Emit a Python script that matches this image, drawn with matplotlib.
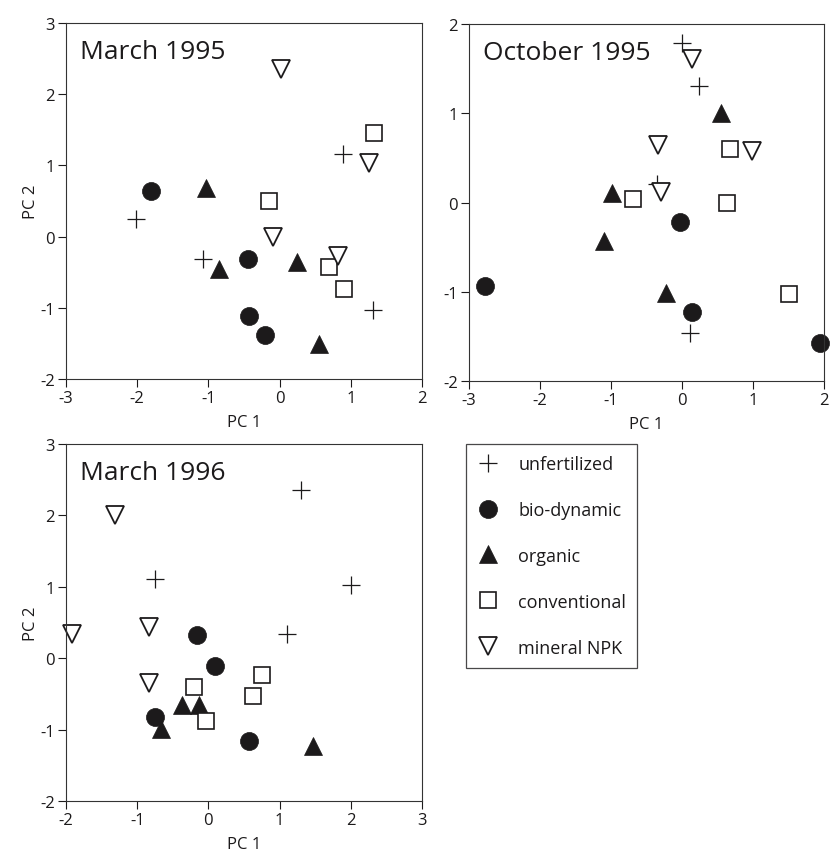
import matplotlib
matplotlib.use("Agg")
import matplotlib.pyplot as plt
from matplotlib.lines import Line2D

plt.rcParams['font.family'] = ['Open Sans', 'DejaVu Sans']
plt.rcParams['axes.unicode_minus'] = False

groups = ["unfertilized", "bio-dynamic", "organic", "conventional", "mineral NPK"]

# March 1995
m95_unfert_x = [0.89, -2.01, -1.08, 1.31]
m95_unfert_y = [1.16, 0.25, -0.31, -1.03]
m95_biodyn_x = [-1.81, -0.45, -0.43, -0.21]
m95_biodyn_y = [0.645, -0.31, -1.12, -1.38]
m95_organic_x = [-1.04, -0.85, 0.25, 0.56]
m95_organic_y = [0.68, -0.46, -0.36, -1.51]
m95_conv_x = [1.32, -0.15, 0.70, 0.91]
m95_conv_y = [1.46, 0.50, -0.42, -0.73]
m95_npk_x = [0.02, 1.26, -0.09, 0.82]
m95_npk_y = [2.35, 1.03, 0.00, -0.27]

# October 1995
o95_unfert_x = [0.00, 0.24, -0.35, 0.11]
o95_unfert_y = [1.79, 1.30, 0.21, -1.46]
o95_biodyn_x = [-0.03, -2.78, 0.14, 1.94]
o95_biodyn_y = [-0.22, -0.94, -1.23, -1.57]
o95_organic_x = [0.545, -0.98, -1.10, -0.23]
o95_organic_y = [1.00, 0.11, -0.43, -1.01]
o95_conv_x = [0.68, -0.69, 0.64, 1.51]
o95_conv_y = [0.60, 0.04, -0.01, -1.02]
o95_npk_x = [0.145, -0.34, 0.99, -0.29]
o95_npk_y = [1.61, 0.64, 0.58, 0.12]

# March 1996
m96_unfert_x = [1.30, -0.75, 2.00, 1.11]
m96_unfert_y = [2.36, 1.11, 1.02, 0.34]
m96_biodyn_x = [-0.16, 0.09, -0.75, 0.57]
m96_biodyn_y = [0.325, -0.11, -0.82, -1.155]
m96_organic_x = [-0.37, -0.13, -0.66, 1.47]
m96_organic_y = [-0.66, -0.66, -0.99, -1.23]
m96_conv_x = [0.75, -0.20, 0.62, -0.03]
m96_conv_y = [-0.23, -0.40, -0.53, -0.875]
m96_npk_x = [-1.31, -1.91, -0.84, -0.84]
m96_npk_y = [2.00, 0.34, 0.43, -0.35]

panels = [
    ("March 1995", (-3, 2), (-2, 3),
     [(m95_unfert_x, m95_unfert_y), (m95_biodyn_x, m95_biodyn_y), (m95_organic_x, m95_organic_y),
      (m95_conv_x, m95_conv_y), (m95_npk_x, m95_npk_y)]),
    ("October 1995", (-3, 2), (-2, 2),
     [(o95_unfert_x, o95_unfert_y), (o95_biodyn_x, o95_biodyn_y), (o95_organic_x, o95_organic_y),
      (o95_conv_x, o95_conv_y), (o95_npk_x, o95_npk_y)]),
    ("March 1996", (-2, 3), (-2, 3),
     [(m96_unfert_x, m96_unfert_y), (m96_biodyn_x, m96_biodyn_y), (m96_organic_x, m96_organic_y),
      (m96_conv_x, m96_conv_y), (m96_npk_x, m96_npk_y)]),
]

INK = "#1c1a1b"
styles = [
    dict(marker="+", markersize=13, markeredgewidth=0.9, color=INK),
    dict(marker="o", markersize=13, markerfacecolor=INK, markeredgecolor=INK, markeredgewidth=0.5),
    dict(marker="^", markersize=13, markerfacecolor=INK, markeredgecolor=INK, markeredgewidth=0.5),
    dict(marker="s", markersize=12, markerfacecolor="white", markeredgecolor=INK, markeredgewidth=1.2),
    dict(marker="v", markersize=12.5, markerfacecolor="white", markeredgecolor=INK, markeredgewidth=1.3),
]

W, H = 830, 854
fig = plt.figure(figsize=(W / 100, H / 100), dpi=100)
boxes = [(66, 24, 422, 380), (469, 25, 824, 382), (66, 445, 422, 802)]

axes = []
for (title, xl, yl, data), (x0, y0, x1, y1) in zip(panels, boxes):
    ax = fig.add_axes([x0 / W, 1 - y1 / H, (x1 - x0) / W, (y1 - y0) / H])
    for (xs, ys), st in zip(data, styles):
        ax.plot(xs, ys, linestyle="none", clip_on=False, **st)
    ax.set_xlim(*xl)
    ax.set_ylim(*yl)
    ax.set_xticks(range(xl[0], xl[1] + 1))
    ax.set_yticks(range(yl[0], yl[1] + 1))
    ax.tick_params(direction="out", length=6, width=0.8, color=INK, labelcolor=INK,
                   labelsize=12, pad=2)
    for s in ax.spines.values():
        s.set_linewidth(0.8)
        s.set_color("#333333")
    ax.text(0.04, 0.955, title, transform=ax.transAxes, fontsize=19, color=INK,
            ha="left", va="top")
    ax.set_xlabel("PC 1", fontsize=12, color=INK, labelpad=6)
    axes.append(ax)

axes[0].set_ylabel("PC 2", fontsize=12, color=INK, labelpad=1)
axes[2].set_ylabel("PC 2", fontsize=12, color=INK, labelpad=1)

handles = [Line2D([], [], linestyle="none", **st) for st in styles]
leg = fig.legend(handles, groups, loc="upper left",
                 bbox_to_anchor=(466 / W, 1 - 445 / H), fontsize=13,
                 frameon=True, fancybox=False, edgecolor=INK, labelspacing=1.55,
                 handlelength=1.2, handletextpad=1.1, borderpad=0.6, borderaxespad=0)
leg.get_frame().set_linewidth(0.9)
for t in leg.get_texts():
    t.set_color(INK)

fig.savefig("out.png", dpi=100, facecolor="white")
